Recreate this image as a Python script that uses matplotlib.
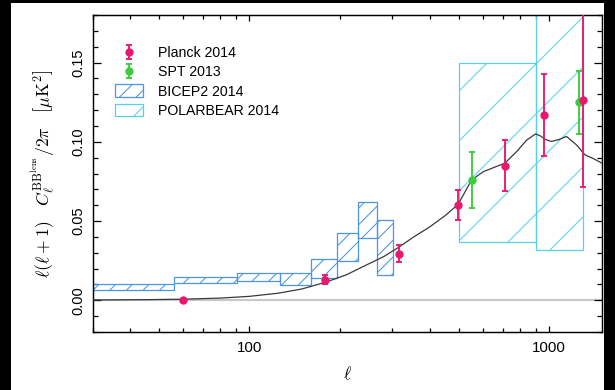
import matplotlib
matplotlib.use('Agg')
from matplotlib import pyplot as plt
from matplotlib.patches import Rectangle

plt.rcParams['font.family'] = ['Liberation Sans', 'DejaVu Sans']
plt.rcParams['mathtext.fontset'] = 'cm'
plt.rcParams['hatch.linewidth'] = 0.5

# BICEP2 2014 bandpowers (bin edges in ell, centre value and half-width)
bicep_edges = [21, 56, 91, 126, 161, 196, 231, 266, 301]
bicep_val = [0.0083, 0.0128, 0.0148, 0.0134, 0.0202, 0.0336, 0.0504, 0.0332]
bicep_err = [0.0020, 0.0018, 0.0026, 0.0039, 0.0059, 0.0087, 0.0114, 0.0174]

# POLARBEAR 2014 bandpowers
polar_edges = [500, 900, 1300]
polar_val = [0.0932, 0.1408]
polar_err = [0.0567, 0.1092]

# Planck 2014 lensing B-modes
planck_ell = [60, 179, 315, 497, 711, 962, 1301]
planck_val = [0.0005, 0.0131, 0.0295, 0.0601, 0.0850, 0.1170, 0.1266]
planck_err = [0.0004, 0.0030, 0.0055, 0.0095, 0.0163, 0.0258, 0.0550]

# SPT 2013
spt_ell = [551, 1256]
spt_val = [0.0760, 0.1249]
spt_err = [0.0176, 0.0198]

# lensed BB theory spectrum
theory_ell = [30, 45, 60, 80, 100, 125, 150, 180, 210, 250, 280, 315, 350, 400,
              450, 497, 551, 603, 711, 780, 840, 900, 933, 970, 1018, 1080,
              1142, 1234, 1315, 1400, 1500]
theory_val = [0.0002, 0.0004, 0.0007, 0.0014, 0.0025, 0.0045, 0.0072, 0.0115,
              0.0160, 0.0230, 0.0275, 0.0335, 0.0395, 0.0464, 0.0535, 0.0606,
              0.0760, 0.0812, 0.0865, 0.0940, 0.1010, 0.1050, 0.1038, 0.1015,
              0.1002, 0.1015, 0.1034, 0.0980, 0.0918, 0.0895, 0.0865]

c_planck = '#e8186c'
c_spt = '#3ccc3c'
c_bicep = '#4a96e0'
c_polar = '#55d2ea'

fig = plt.figure(figsize=(4.1, 2.6), dpi=150, facecolor='black')
fig.patches.append(Rectangle((11/615, 0), 593/615, 387/390, transform=fig.transFigure,
                             facecolor='white', edgecolor='none', zorder=-10))
ax = fig.add_axes([0.1507, 0.1487, 0.8282, 0.8128])

ax.axhline(0, color='#c8c8c8', lw=1.0, zorder=1)

# hatched boxes
b_lo = bicep_edges[:-1]
b_w = [bicep_edges[i+1] - bicep_edges[i] for i in range(len(b_lo))]
b_bot = [v - e for v, e in zip(bicep_val, bicep_err)]
b_h = [2 * e for e in bicep_err]
ax.bar(b_lo, b_h, width=b_w, bottom=b_bot, align='edge', fill=False,
       edgecolor=c_bicep, hatch='///', lw=0.6, zorder=2, label='BICEP2 2014')

p_lo = polar_edges[:-1]
p_w = [polar_edges[i+1] - polar_edges[i] for i in range(len(p_lo))]
p_bot = [v - e for v, e in zip(polar_val, polar_err)]
p_h = [2 * e for e in polar_err]
ax.bar(p_lo, p_h, width=p_w, bottom=p_bot, align='edge', fill=False,
       edgecolor=c_polar, hatch='/', lw=0.6, zorder=2, label='POLARBEAR 2014')

ax.plot(theory_ell, theory_val, color='#3a3a3a', lw=0.6, zorder=3)

ax.errorbar(planck_ell, planck_val, yerr=planck_err, fmt='o', color=c_planck,
            ms=3.0, lw=0.9, capsize=1.6, capthick=0.9, zorder=5, label='Planck 2014')
ax.errorbar(spt_ell, spt_val, yerr=spt_err, fmt='o', color=c_spt,
            ms=3.0, lw=0.9, capsize=1.6, capthick=0.9, zorder=4, label='SPT 2013')

ax.set_xscale('log')
ax.set_xlim(30, 1500)
ax.set_ylim(-0.02, 0.18)
ax.set_xticks([100, 1000])
ax.set_xticklabels(['100', '1000'])
ax.set_yticks([0.0, 0.05, 0.10, 0.15])
ax.set_yticklabels(['0.00', '0.05', '0.10', '0.15'], rotation=90, va='center',
                   family=['Liberation Sans Narrow', 'Liberation Sans'], fontsize=7.0)
ax.set_yticks([i / 100 for i in range(-2, 19)], minor=True)

ax.tick_params(axis='both', which='both', direction='in', top=True, right=True, width=0.6)
ax.tick_params(axis='x', which='major', length=3.0, labelsize=7.2, pad=4.5)
ax.tick_params(axis='x', which='minor', length=1.8)
ax.tick_params(axis='y', which='major', length=4.0, pad=3.5)
ax.tick_params(axis='y', which='minor', length=2.6)
for s in ax.spines.values():
    s.set_linewidth(0.7)

ax.set_xlabel(r'$\ell$', fontsize=8.5)
ax.xaxis.set_label_coords(0.5, -0.105)
ax.set_ylabel(r'$\ell(\ell+1)\quad C_\ell^{\rm BB^{lens}}/2\pi\quad \left[\mu{\rm K}^2\right]$',
              fontsize=8.5, va='center')
ax.yaxis.set_label_coords(-0.0976, 0.5)

handles, labels = ax.get_legend_handles_labels()
order = [labels.index(n) for n in ['Planck 2014', 'SPT 2013', 'BICEP2 2014', 'POLARBEAR 2014']]
ax.legend([handles[i] for i in order], [labels[i] for i in order], loc='upper left',
          bbox_to_anchor=(0.043, 0.902), frameon=False, fontsize=6.8, borderpad=0,
          borderaxespad=0, handlelength=2.0, handleheight=1.0, handletextpad=1.1,
          labelspacing=0.35)

fig.savefig('out.png', dpi=150, facecolor=fig.get_facecolor())
